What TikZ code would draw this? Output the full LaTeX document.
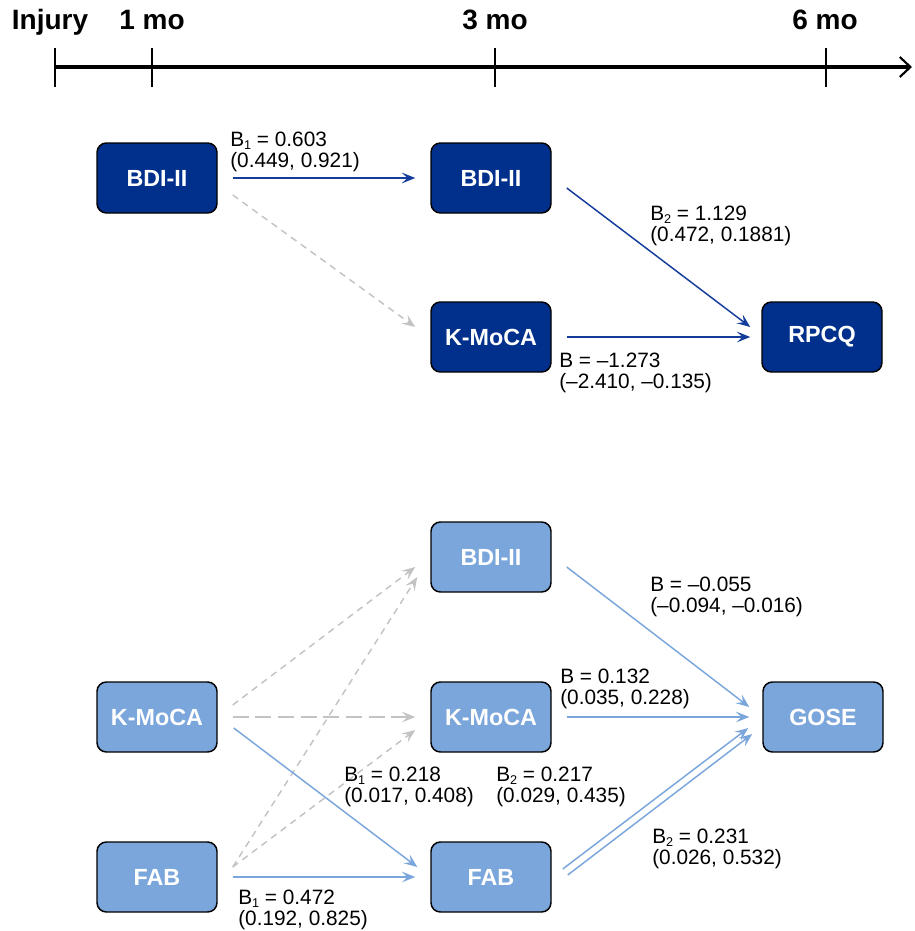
\documentclass[tikz,border=0pt]{standalone}
\usepackage{fontspec}
\setmainfont{Liberation Sans}
\usetikzlibrary{arrows.meta,calc}
\definecolor{navy}{RGB}{0,48,140}
\definecolor{navyline}{RGB}{20,60,155}
\definecolor{lblue}{RGB}{122,166,220}
\definecolor{lgrey}{RGB}{195,195,195}
\newcommand{\lowsub}[1]{\raisebox{-0.22ex}{\fontsize{9.5}{10}\selectfont #1}}
\begin{document}
\begin{tikzpicture}[x=0.75pt,y=-0.75pt,
  box/.style={draw=black,line width=1.1pt,rounded corners=7pt,minimum width=90pt,minimum height=52.5pt,inner sep=0pt,text=white,font=\fontsize{17.5}{19}\selectfont\bfseries},
  dbox/.style={box,fill=navy},
  lbox/.style={box,fill=lblue},
  lab/.style={anchor=north west,inner sep=0pt,align=left,font=\fontsize{15.6}{15.8}\selectfont},
  tlab/.style={anchor=base,inner sep=0pt,font=\fontsize{21}{22}\selectfont\bfseries},
  tip/.style={-{Stealth[length=10pt,width=8pt,inset=4pt]}},
  darr/.style={tip,draw=navyline,line width=1.1pt},
  larr/.style={tip,draw=lblue,line width=1.1pt},
  garr/.style={tip,draw=lgrey,line width=1.1pt,dash pattern=on 5pt off 4pt},
  garrlong/.style={tip,draw=lgrey,line width=1.1pt,dash pattern=on 12pt off 5pt}
]
\useasboundingbox (0,0) rectangle (914,931);

% timeline
\coordinate (t0) at (55,67);
\coordinate (tend) at (912,67);
\draw[line width=2.4pt,-{Straight Barb[length=8pt,width=15pt,line width=1.6pt]}] (t0) -- (tend);
\foreach \x in {55,152,495,826} \draw[line width=1.2pt] (\x,48) -- (\x,87);
\node[tlab] (tinj) at (50,30) {Injury};
\node[tlab] (t1) at (152,30) {1 mo};
\node[tlab] (t3) at (495,30) {3 mo};
\node[tlab] (t6) at (825,30) {6 mo};

% top model
\node[dbox] (A1) at (157,178) {BDI-II};
\node[dbox] (A2) at (491,178) {BDI-II};
\node[dbox] (A3) at (491,337) {K-MoCA};
\node[dbox] (A4) at (822,337) {RPCQ};

\draw[darr] ($(A1.east)+(15,0)$) -- ($(A2.west)+(-15,0)$);
\draw[garr] ($(A1.east)+(15,17)$) -- ($(A3.west)+(-15,-10)$);
\draw[darr] ($(A2.east)+(15,10)$) -- ($(A4.west)+(-11,-10)$);
\draw[darr] ($(A3.east)+(15,0)$) -- ($(A4.west)+(-11,0)$);

\node[lab] (la1) at (230,132) {B\lowsub{1} = 0.603\\(0.449, 0.921)};
\node[lab] (la2) at (650,206) {B\lowsub{2} = 1.129\\(0.472, 0.1881)};
\node[lab] (la3) at (559,353) {B = –1.273\\(–2.410, –0.135)};

% bottom model
\node[lbox] (B1) at (491,557) {BDI-II};
\node[lbox] (B2) at (491,717) {K-MoCA};
\node[lbox] (B3) at (491,877) {FAB};
\node[lbox] (L1) at (157,717) {K-MoCA};
\node[lbox] (L2) at (157,877) {FAB};
\node[lbox] (G) at (823,717) {GOSE};

\draw[garr] ($(L1.east)+(15,-12)$) -- ($(B1.west)+(-15,10)$);
\draw[garrlong] ($(L1.east)+(15,0)$) -- ($(B2.west)+(-15,0)$);
\draw[garr] ($(L2.east)+(15,-10)$) -- ($(B1.west)+(-13,20)$);
\draw[garr] ($(L2.east)+(15,-10)$) -- ($(B2.west)+(-15,13)$);
\draw[larr] ($(L1.east)+(16,11)$) -- ($(B3.west)+(-13,-10)$);
\draw[larr] ($(L2.east)+(15,0)$) -- ($(B3.west)+(-15,0)$);

\draw[larr] ($(B1.east)+(15,10)$) -- ($(G.west)+(-13,-10)$);
\draw[larr] ($(B2.east)+(15,0)$) -- ($(G.west)+(-13,0)$);
\draw[larr] ($(B3.east)+(11,-8)$) -- ($(G.west)+(-14,11)$);
\draw[larr] ($(B3.east)+(16,-2)$) -- ($(G.west)+(-10,17)$);

\node[lab] (lb1) at (650,577) {B = –0.055\\(–0.094, –0.016)};
\node[lab] (lb2) at (560,669) {B = 0.132\\(0.035, 0.228)};
\node[lab] (lb3) at (344,767) {B\lowsub{1} = 0.218\\(0.017, 0.408)};
\node[lab] (lb4) at (496,767) {B\lowsub{2} = 0.217\\(0.029, 0.435)};
\node[lab] (lb5) at (238,890) {B\lowsub{1} = 0.472\\(0.192, 0.825)};
\node[lab] (lb6) at (652,829) {B\lowsub{2} = 0.231\\(0.026, 0.532)};
\end{tikzpicture}
\end{document}
